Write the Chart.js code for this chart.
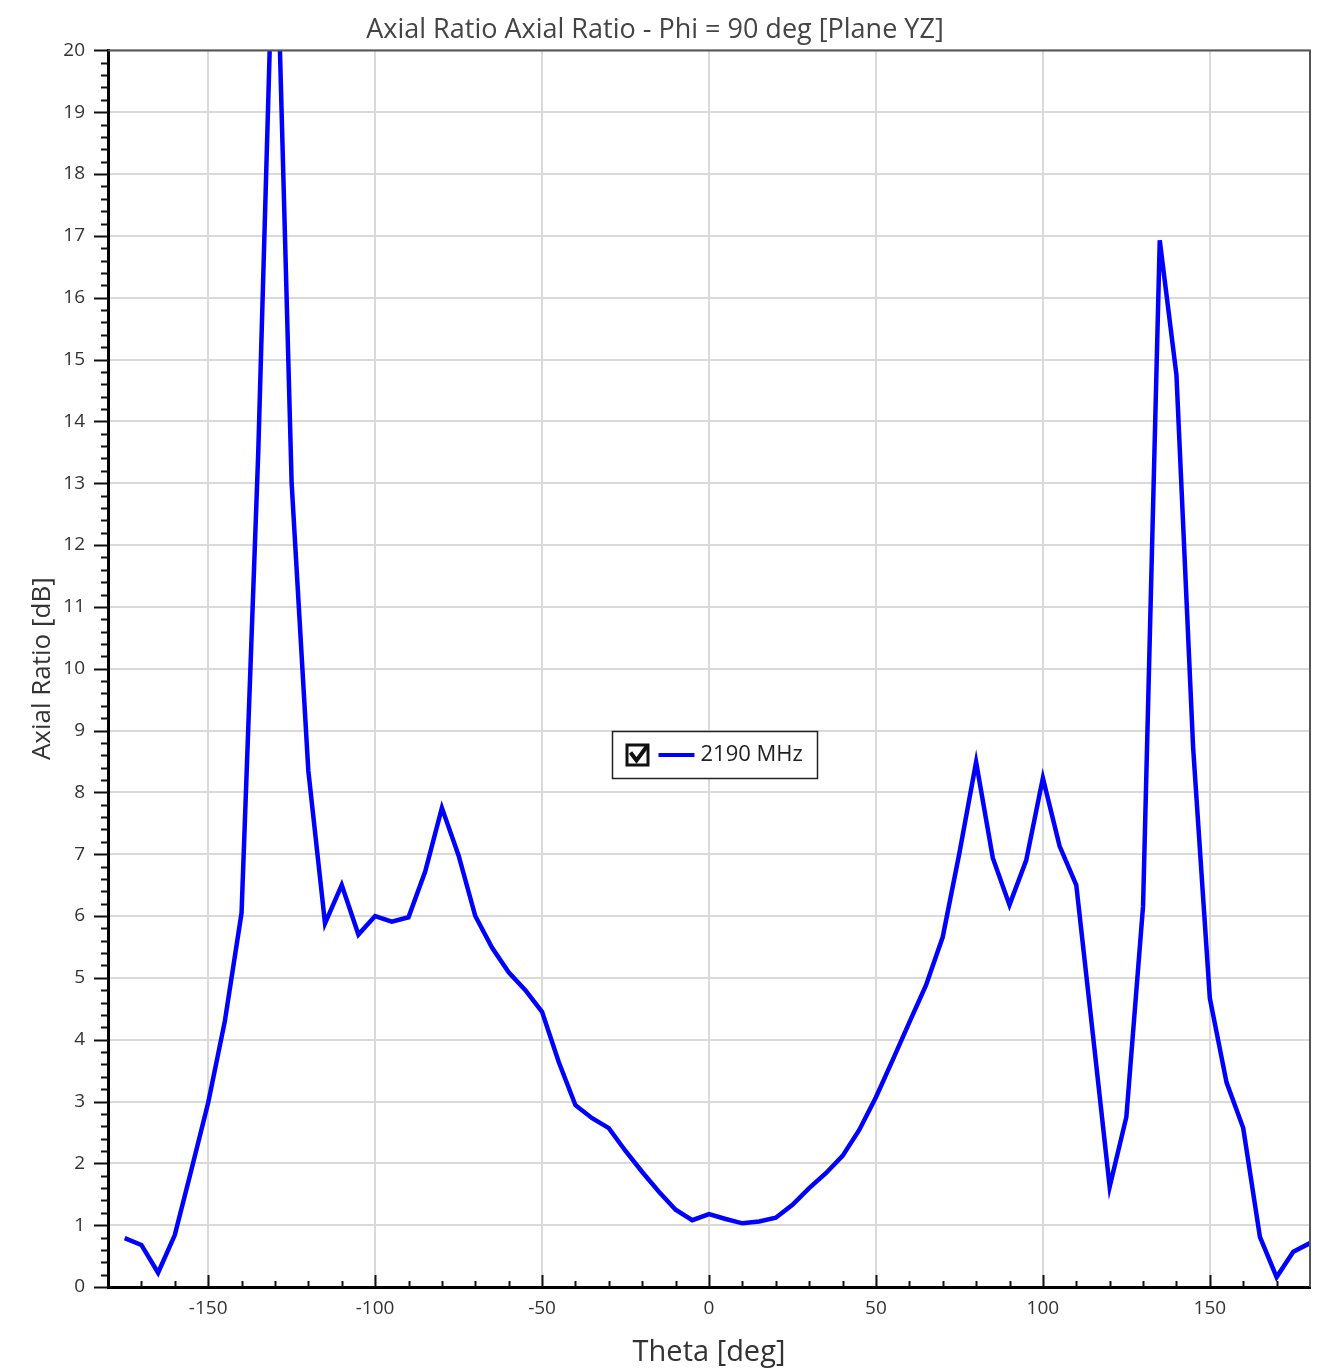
<!DOCTYPE html>
<html>
<head>
<meta charset="utf-8">
<script src="https://cdn.jsdelivr.net/npm/chart.js@4.4.1/dist/chart.umd.min.js"></script>
<style>
  html, body { margin: 0; padding: 0; background: #fff; }
  #wrap { width: 1334px; height: 1370px; }
</style>
</head>
<body>
<div id="wrap"><canvas id="arChart"></canvas></div>
<script>
// theta sweep, 5 deg steps
var theta = [-175, -170, -165, -160, -155, -150, -145, -140, -135, -130,
  -125, -120, -115, -110, -105, -100, -95, -90, -85, -80,
  -75, -70, -65, -60, -55, -50, -45, -40, -35, -30,
  -25, -20, -15, -10, -5, 0, 5, 10, 15, 20,
  25, 30, 35, 40, 45, 50, 55, 60, 65, 70,
  75, 80, 85, 90, 95, 100, 105, 110, 115, 120,
  125, 130, 135, 140, 145, 150, 155, 160, 165, 170,
  175, 180];

// axial ratio [dB] at 2190 MHz
var axialRatio = [0.79, 0.68, 0.23, 0.84, 1.9, 2.98, 4.3, 6.05, 13.5, 23.0,
  13.0, 8.35, 5.88, 6.5, 5.7, 6.0, 5.91, 5.98, 6.72, 7.75,
  6.98, 6.0, 5.49, 5.09, 4.8, 4.45, 3.64, 2.94, 2.73, 2.57,
  2.2, 1.86, 1.54, 1.25, 1.08, 1.18, 1.1, 1.03, 1.06, 1.12,
  1.33, 1.6, 1.84, 2.12, 2.54, 3.07, 3.67, 4.28, 4.88, 5.66,
  7.02, 8.49, 6.94, 6.18, 6.9, 8.23, 7.13, 6.5, 4.07, 1.62,
  2.75, 6.16, 16.93, 14.75, 8.72, 4.67, 3.31, 2.57, 0.81, 0.16,
  0.57, 0.71];

var seriesLabel = "2190 MHz";
var chartTitle = "Axial Ratio Axial Ratio - Phi = 90 deg [Plane YZ]";
var xTitle = "Theta [deg]";
var yTitle = "Axial Ratio [dB]";

var fontFamily = "'Open Sans', 'Noto Sans', sans-serif";

var points = theta.map(function (t, i) { return { x: t, y: axialRatio[i] }; });

// minor/major tick marks + top/right frame
var ticksAndFrame = {
  id: "ticksAndFrame",
  afterDraw: function (chart) {
    var ctx = chart.ctx;
    var a = chart.chartArea;
    var xs = chart.scales.x, ys = chart.scales.y;
    ctx.save();
    // frame top + right
    ctx.strokeStyle = "#555";
    ctx.lineWidth = 2;
    ctx.beginPath();
    ctx.moveTo(a.left, a.top);
    ctx.lineTo(a.right, a.top);
    ctx.lineTo(a.right, a.bottom);
    ctx.stroke();

    ctx.strokeStyle = "#111";
    ctx.lineWidth = 2;
    // y ticks, outside to the left
    for (var k = 0; k <= 100; k++) {
      var v = k / 5;
      var py = Math.round(ys.getPixelForValue(v)) + 0.5;
      var len = (k % 5 === 0) ? 14 : 7;
      ctx.beginPath();
      ctx.moveTo(a.left - len, py);
      ctx.lineTo(a.left, py);
      ctx.stroke();
    }
    // x ticks, inside pointing up
    for (var t = -170; t <= 170; t += 10) {
      var px = Math.round(xs.getPixelForValue(t)) + 0.5;
      var l2 = (t % 50 === 0) ? 12 : 6;
      ctx.beginPath();
      ctx.moveTo(px, a.bottom);
      ctx.lineTo(px, a.bottom - l2);
      ctx.stroke();
    }
    ctx.restore();
  }
};

// legend box in the middle of the plot
var boxLegend = {
  id: "boxLegend",
  afterDraw: function (chart) {
    var ctx = chart.ctx;
    var a = chart.chartArea;
    var ds = chart.data.datasets[0];
    var w = 205, h = 47;
    var x0 = Math.round(a.left + (a.right - a.left) * 0.419) + 0.5;
    var y0 = Math.round(a.top + (a.bottom - a.top) * 0.550) + 0.5;
    ctx.save();
    ctx.fillStyle = "#fff";
    ctx.fillRect(x0, y0, w, h);
    ctx.strokeStyle = "#222";
    ctx.lineWidth = 1.5;
    ctx.strokeRect(x0, y0, w, h);
    // checkbox
    var cx = x0 + 13, cy = y0 + 12;
    ctx.fillStyle = "#111";
    ctx.fillRect(cx, cy, 24, 23);
    ctx.fillStyle = "#fff";
    ctx.fillRect(cx + 3, cy + 3, 18, 17);
    ctx.strokeStyle = "#111";
    ctx.lineWidth = 4;
    ctx.beginPath();
    ctx.moveTo(cx + 5, cy + 9);
    ctx.lineTo(cx + 11, cy + 17);
    ctx.lineTo(cx + 22, cy + 2);
    ctx.stroke();
    // series line
    ctx.strokeStyle = ds.borderColor;
    ctx.lineWidth = 4;
    ctx.beginPath();
    ctx.moveTo(x0 + 46, y0 + 23.5);
    ctx.lineTo(x0 + 82, y0 + 23.5);
    ctx.stroke();
    ctx.fillStyle = "#222";
    ctx.font = "22px " + fontFamily;
    ctx.textBaseline = "middle";
    ctx.fillText(ds.label, x0 + 88, y0 + 23);
    ctx.restore();
  }
};

new Chart(document.getElementById("arChart"), {
  type: "line",
  data: {
    datasets: [{
      label: seriesLabel,
      data: points,
      borderColor: "#0000ff",
      backgroundColor: "#0000ff",
      borderWidth: 4.5,
      pointRadius: 0,
      fill: false,
      tension: 0,
      clip: 0
    }]
  },
  options: {
    responsive: true,
    maintainAspectRatio: false,
    animation: false,
    layout: { padding: { left: 0, right: 24, top: 0, bottom: 0 } },
    plugins: {
      legend: { display: false },
      tooltip: { enabled: false },
      title: {
        display: true,
        text: chartTitle,
        color: "#444",
        font: { family: fontFamily, size: 27, weight: "normal" },
        padding: { top: 14, bottom: 4 }
      }
    },
    scales: {
      x: {
        type: "linear",
        min: -180,
        max: 180,
        afterFit: function (s) { s.height = 83; },
        ticks: {
          stepSize: 50,
          color: "#333",
          font: { family: fontFamily, size: 19 },
          padding: 10,
          maxRotation: 0,
          callback: function (v) { return (v % 50 === 0) ? v : ""; }
        },
        grid: {
          drawTicks: false,
          lineWidth: 2,
          color: function (c) {
            var v = c.tick && c.tick.value;
            return (v === -180 || v === 180) ? "rgba(0,0,0,0)" : "#dadada";
          }
        },
        border: { color: "#000", width: 3 },
        title: {
          display: true,
          text: xTitle,
          color: "#333",
          font: { family: fontFamily, size: 29 },
          padding: { top: 0, bottom: 0 }
        }
      },
      y: {
        min: 0,
        max: 20,
        afterFit: function (s) { s.width = 108; },
        ticks: {
          stepSize: 1,
          color: "#333",
          font: { family: fontFamily, size: 19 },
          padding: 23
        },
        grid: {
          drawTicks: false,
          lineWidth: 2,
          color: "#dadada"
        },
        border: { color: "#000", width: 3 },
        title: {
          display: true,
          text: yTitle,
          color: "#333",
          font: { family: fontFamily, size: 26 },
          padding: { top: 27, bottom: 0 }
        }
      }
    }
  },
  plugins: [ticksAndFrame, boxLegend]
});
</script>
</body>
</html>
